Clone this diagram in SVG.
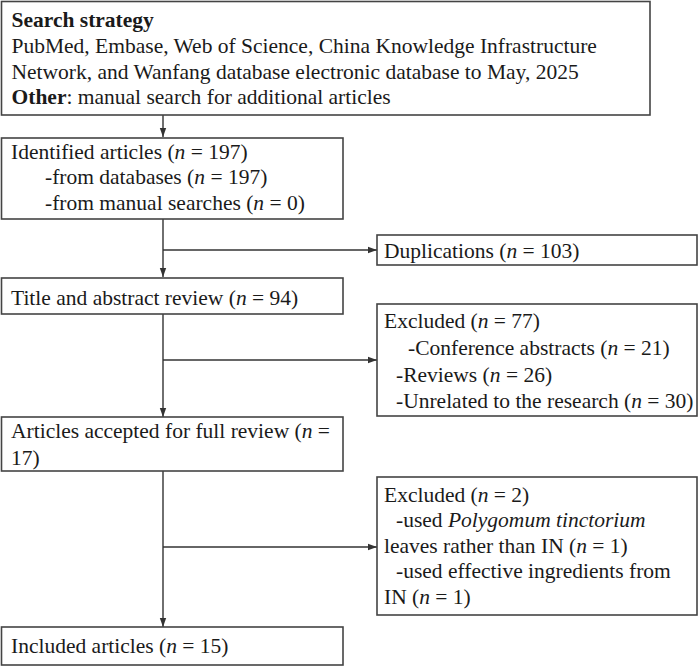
<svg xmlns="http://www.w3.org/2000/svg" width="699" height="668" viewBox="0 0 699 668">
<defs>
<marker id="ah" markerWidth="10" markerHeight="8" refX="9" refY="4" orient="auto" markerUnits="userSpaceOnUse">
<path d="M0,0.8 L9,4 L0,7.2 Z" fill="#333"/>
</marker>
<style>
.box{fill:#fff;stroke:#444;stroke-width:1.6}
.t{font-family:"Liberation Serif","Times New Roman",serif;font-size:21.5px;fill:#1a1a1a}
.i{font-style:italic}
.b{font-weight:bold}
.c{fill:none;stroke:#333;stroke-width:1.4}
</style>
</defs>
<rect width="699" height="668" fill="#fff"/>
<g id="connectors">
<line class="c" x1="163" y1="115" x2="163" y2="137" marker-end="url(#ah)"/>
<line class="c" x1="163" y1="219" x2="163" y2="277" marker-end="url(#ah)"/>
<line class="c" x1="163" y1="250" x2="377" y2="250" marker-end="url(#ah)"/>
<line class="c" x1="163" y1="314" x2="163" y2="417" marker-end="url(#ah)"/>
<line class="c" x1="163" y1="360" x2="377" y2="360" marker-end="url(#ah)"/>
<line class="c" x1="163" y1="471" x2="163" y2="627" marker-end="url(#ah)"/>
<line class="c" x1="163" y1="547" x2="377" y2="547" marker-end="url(#ah)"/>
</g>
<g id="search">
<rect class="box" x="1.5" y="1.5" width="648.5" height="113.5"/>
<text class="t b" x="11.5" y="27">Search strategy</text>
<text class="t" x="11.5" y="53">PubMed, Embase, Web of Science, China Knowledge Infrastructure</text>
<text class="t" x="11.5" y="79">Network, and Wanfang database electronic database to May, 2025</text>
<text class="t" x="11.5" y="104"><tspan class="b">Other</tspan>: manual search for additional articles</text>
</g>
<g id="identified">
<rect class="box" x="1.5" y="138" width="341.5" height="81"/>
<text class="t" x="11" y="159">Identified articles (<tspan class="i">n</tspan> = 197)</text>
<text class="t" x="45" y="184">-from databases (<tspan class="i">n</tspan> = 197)</text>
<text class="t" x="45" y="210">-from manual searches (<tspan class="i">n</tspan> = 0)</text>
</g>
<g id="duplications">
<rect class="box" x="377" y="235" width="320" height="30"/>
<text class="t" x="384" y="258">Duplications (<tspan class="i">n</tspan> = 103)</text>
</g>
<g id="title-review">
<rect class="box" x="1.5" y="278" width="341.5" height="36"/>
<text class="t" x="11" y="305">Title and abstract review (<tspan class="i">n</tspan> = 94)</text>
</g>
<g id="excluded1">
<rect class="box" x="377" y="304" width="320" height="112"/>
<text class="t" x="384" y="328">Excluded (<tspan class="i">n</tspan> = 77)</text>
<text class="t" x="408" y="355">-Conference abstracts (<tspan class="i">n</tspan> = 21)</text>
<text class="t" x="396" y="382">-Reviews (<tspan class="i">n</tspan> = 26)</text>
<text class="t" x="396" y="408">-Unrelated to the research (<tspan class="i">n</tspan> = 30)</text>
</g>
<g id="full-review">
<rect class="box" x="1.5" y="417" width="341.5" height="54"/>
<text class="t" x="11" y="438">Articles accepted for full review (<tspan class="i">n</tspan> =</text>
<text class="t" x="11" y="465">17)</text>
</g>
<g id="excluded2">
<rect class="box" x="377" y="477" width="320" height="138"/>
<text class="t" x="384" y="502">Excluded (<tspan class="i">n</tspan> = 2)</text>
<text class="t" x="396" y="527">-used <tspan class="i">Polygomum tinctorium</tspan></text>
<text class="t" x="384" y="553">leaves rather than IN (<tspan class="i">n</tspan> = 1)</text>
<text class="t" x="396" y="578">-used effective ingredients from</text>
<text class="t" x="384" y="604">IN (<tspan class="i">n</tspan> = 1)</text>
</g>
<g id="included">
<rect class="box" x="1.5" y="627" width="341.5" height="38"/>
<text class="t" x="11" y="653">Included articles (<tspan class="i">n</tspan> = 15)</text>
</g>
</svg>
